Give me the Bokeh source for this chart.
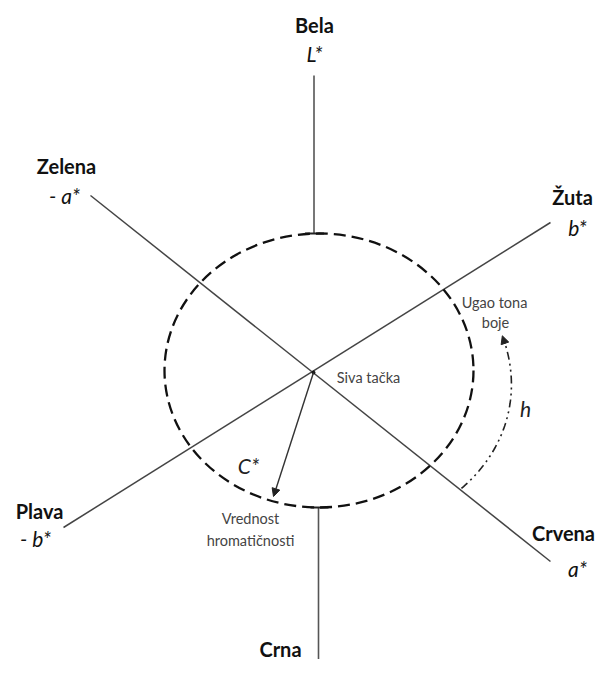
import numpy as np
from bokeh.plotting import figure
from bokeh.models import Range1d, Arrow, NormalHead
from bokeh.core.properties import value
from bokeh.embed import file_html
from bokeh.resources import INLINE

PAGE_H = 675
W, H = 596, 659

def Y(py):
    return PAGE_H - np.asarray(py, dtype=float)

# ---------------- data (reference picture coordinates) ----------------
center_xy = (313, 372)
# the two chromatic axes (a*: Zelena -> Crvena, b*: Plava -> Zuta)
axis_x0 = [90, 63]
axis_y0 = [195, 527]
axis_x1 = [550, 550]
axis_y1 = [561, 222]
# lightness axis pieces (x, y_start, y_end)
l_top = (313.5, 75, 233)
l_bot = (318, 507, 680)
# colour sphere section
ell_cx, ell_cy, ell_rx, ell_ry = 318.5, 370, 154.5, 137
# pole names and axis symbols
pole_names = ["Bela", "Zelena", "Žuta", "Plava", "Crvena", "Crna"]
pole_x = [314, 66, 572, 39, 563, 280]
pole_y = [24, 165, 196, 510, 532, 648]
sym_names = ["L*", "- a*", "b*", "- b*", "a*"]
sym_x = [314, 64, 577, 35, 577]
sym_y = [53, 195, 227, 538, 568]
note_names = ["Siva tačka", "Vrednost", "hromatičnosti", "Ugao tona", "boje"]
note_x = [368, 250, 250, 494, 495]
note_y = [377, 518, 540, 302, 322]
ital_names = ["C*", "h"]
ital_x = [248, 525]
ital_y = [465, 408]
chroma_tip = (273, 496)
hue_end_deg = 11.0

# ---------------- figure ----------------
p = figure(width=W, height=H, output_backend="svg", toolbar_location=None,
           x_range=Range1d(0, W), y_range=Range1d(PAGE_H - H, PAGE_H),
           x_axis_type=None, y_axis_type=None, min_border=0)
p.grid.visible = False
p.outline_line_color = None
p.background_fill_color = "white"
p.border_fill_color = "white"

axis_col = "#444444"
# chromatic axes
p.segment(x0=axis_x0, y0=Y(axis_y0), x1=axis_x1, y1=Y(axis_y1),
          line_color=axis_col, line_width=1.5)
# lightness axis
p.segment(x0=[l_top[0], l_bot[0]], y0=Y([l_top[1], l_bot[1]]),
          x1=[l_top[0], l_bot[0]], y1=Y([l_top[2], l_bot[2]]),
          line_color="#555555", line_width=1.6)
# small caps at the joins with the section
p.segment(x0=[l_top[0] - 9, l_bot[0] - 8], y0=Y([l_top[2], l_bot[1]]),
          x1=[l_top[0] + 10, l_bot[0] + 10], y1=Y([l_top[2], l_bot[1]]),
          line_color="#222222", line_width=2)

# dashed section ellipse
p.ellipse(x=[ell_cx], y=Y([ell_cy]), width=[2 * ell_rx], height=[2 * ell_ry],
          fill_color=None, line_color="#111111", line_width=2.3, line_dash="12 6")

cx, cy = center_xy[0], float(Y(center_xy[1]))
p.scatter(x=[cx], y=[cy], size=3, color="#111111")

# chroma arrow
p.add_layout(Arrow(end=NormalHead(size=8, fill_color="#222222", line_color="#222222"),
                   x_start=cx, y_start=cy, x_end=chroma_tip[0], y_end=float(Y(chroma_tip[1])),
                   line_color="#333333", line_width=1.4))

# hue angle arc (dash-dot)
start_deg = np.degrees(np.arctan2(float(Y(axis_y1[0])) - cy, axis_x1[0] - cx))
th = np.radians(np.linspace(start_deg + 0.5, hue_end_deg, 60))
a_, b_, rot = 199.0, 160.0, np.radians(-10.0)
r = 1.0 / np.sqrt((np.cos(th - rot) / a_) ** 2 + (np.sin(th - rot) / b_) ** 2)
hx = cx + r * np.cos(th)
hy = cy + r * np.sin(th)
p.line(hx[:-2], hy[:-2], line_color="#222222", line_width=1.6, line_dash="8 4 2 4 2 4")
p.add_layout(Arrow(end=NormalHead(size=8, fill_color="#222222", line_color="#222222"),
                   x_start=float(hx[-4]), y_start=float(hy[-4]),
                   x_end=float(hx[-1]), y_end=float(hy[-1]),
                   line_color="#222222", line_width=1.4))

font = value("Lato")
p.text(x=pole_x, y=Y(pole_y), text=pole_names, text_font=font, text_font_style="bold",
       text_font_size="20px", text_color="#111111", text_align="center", text_baseline="middle")
p.text(x=sym_x, y=Y(sym_y), text=sym_names, text_font=font, text_font_style="italic",
       text_font_size="21px", text_color="#111111", text_align="center", text_baseline="middle")
p.text(x=note_x, y=Y(note_y), text=note_names, text_font=font, text_font_style="normal",
       text_font_size="14.5px", text_color="#444444", text_align="center", text_baseline="middle")
p.text(x=ital_x, y=Y(ital_y), text=ital_names, text_font=font, text_font_style="italic",
       text_font_size="21px", text_color="#222222", text_align="center", text_baseline="middle")

open("out.html", "w").write(file_html(p, INLINE))
